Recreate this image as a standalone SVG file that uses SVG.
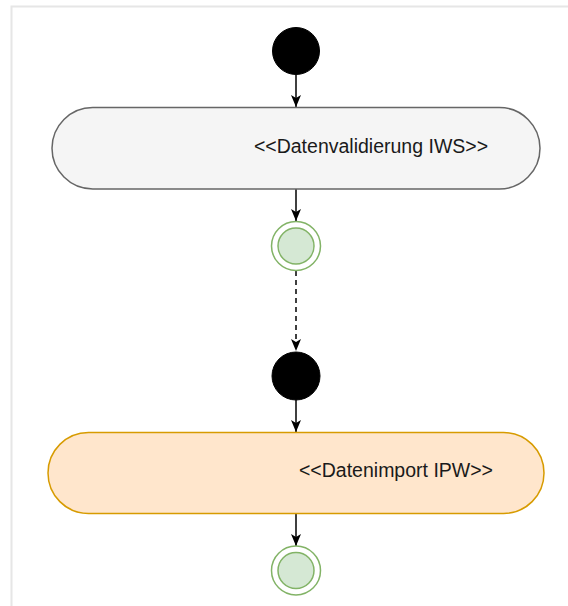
<svg xmlns="http://www.w3.org/2000/svg" width="568" height="606" viewBox="0 0 568 606">
<defs>
<style>
.start{fill:#000;stroke:#000;stroke-width:1}
.endo{fill:#fff;stroke:#82b366;stroke-width:1.5}
.endi{fill:#d5e8d4;stroke:#82b366;stroke-width:1.5}
.lbl{font-family:"Liberation Sans",Arial,sans-serif;font-size:19.5px;fill:#1a1a1a}
.edge{stroke:#000;stroke-width:1.5;fill:none}
</style>
<marker id="ah" viewBox="0 0 12 12" refX="12" refY="6" markerWidth="12" markerHeight="12" markerUnits="userSpaceOnUse" orient="auto">
<path d="M0,1 L12,6 L0,11 L3,6 Z" fill="#000"/>
</marker>
</defs>
<rect x="0" y="0" width="568" height="606" fill="#fff"/>
<path d="M11.5,606 V6.5 H568" fill="none" stroke="#e6e6e6" stroke-width="2"/>
<g id="connectors">
<line class="edge" x1="296" y1="75" x2="296" y2="107" marker-end="url(#ah)"/>
<line class="edge" x1="296" y1="189" x2="296" y2="221" marker-end="url(#ah)"/>
<line class="edge" x1="296" y1="271" x2="296" y2="351" stroke-dasharray="5 4" stroke="#333" marker-end="url(#ah)"/>
<line class="edge" x1="296" y1="400" x2="296" y2="432" marker-end="url(#ah)"/>
<line class="edge" x1="296" y1="513" x2="296" y2="546" marker-end="url(#ah)"/>
</g>
<g id="start1"><circle class="start" cx="296" cy="51" r="23.5"/></g>
<g id="action1">
<rect x="52" y="107.5" width="488" height="81.5" rx="40.75" fill="#f5f5f5" stroke="#666" stroke-width="1.5"/>
<text class="lbl" x="371" y="153" text-anchor="middle" fill="#333">&lt;&lt;Datenvalidierung IWS&gt;&gt;</text>
</g>
<g id="end1">
<circle class="endo" cx="296" cy="246" r="24.5"/>
<circle class="endi" cx="296" cy="246" r="18"/>
</g>
<g id="start2"><circle class="start" cx="296" cy="376" r="24"/></g>
<g id="action2">
<rect x="48" y="432.5" width="496" height="81" rx="40.5" fill="#ffe6cc" stroke="#d79b00" stroke-width="1.5"/>
<text class="lbl" x="396" y="477" text-anchor="middle">&lt;&lt;Datenimport IPW&gt;&gt;</text>
</g>
<g id="end2">
<circle class="endo" cx="296" cy="570.5" r="24.5"/>
<circle class="endi" cx="296" cy="570.5" r="18"/>
</g>
</svg>
